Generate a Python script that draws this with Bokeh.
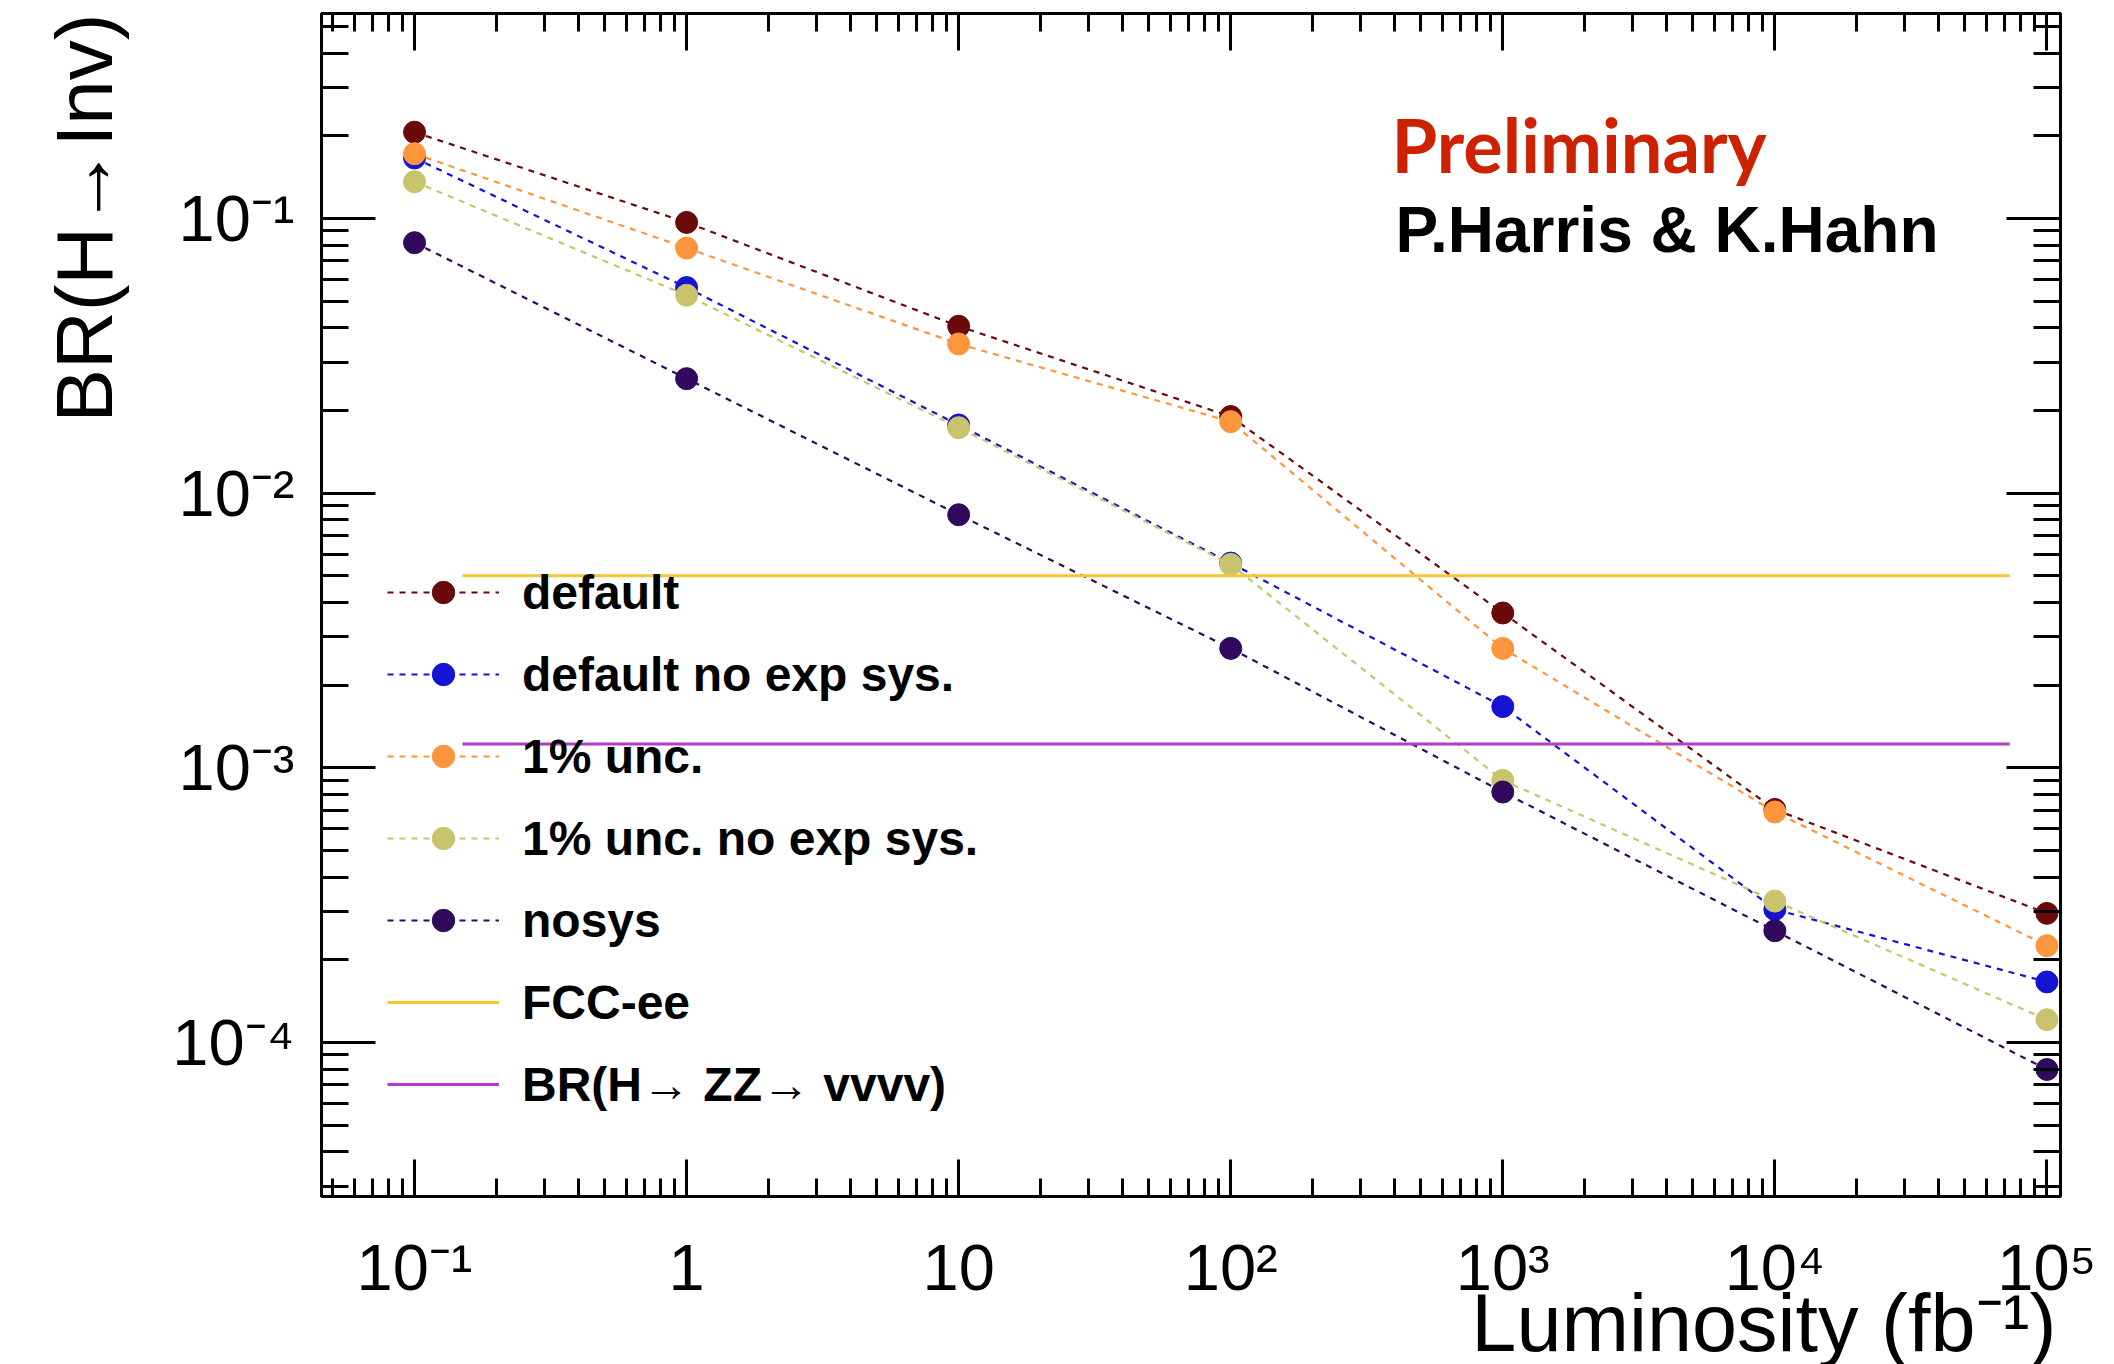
import math
from bokeh.plotting import figure
from bokeh.models import (LogAxis, LogTicker, CustomJSTickFormatter, Label,
                          Legend, LegendItem, Range1d, Title)
from bokeh.embed import file_html
from bokeh.resources import INLINE

# ---------------- data ----------------
lumi = [0.1, 1, 10, 100, 1000, 10000, 100000]
br_default = [0.206, 0.0967, 0.0405, 0.0190, 0.00366, 7.05e-4, 2.95e-4]
br_default_noexp = [0.166, 0.056, 0.0177, 0.00556, 0.00167, 3.05e-4, 1.66e-4]
br_1pct = [0.172, 0.078, 0.0349, 0.0182, 0.00272, 6.9e-4, 2.25e-4]
br_1pct_noexp = [0.136, 0.0525, 0.0173, 0.0055, 9.0e-4, 3.27e-4, 1.21e-4]
br_nosys = [0.0816, 0.0261, 0.00834, 0.00272, 8.16e-4, 2.55e-4, 7.97e-5]
fcc_lumi = [0.15, 7.3e4]
fcc_br = [5.0e-3, 5.0e-3]
zz_lumi = [0.15, 7.3e4]
zz_br = [1.22e-3, 1.22e-3]

series_labels = ["default", "default no exp sys.", "1% unc.",
                 "1% unc. no exp sys.", "nosys"]
series_values = [br_default, br_default_noexp, br_1pct, br_1pct_noexp, br_nosys]
series_colors = ["#6a0a0a", "#1414d2", "#fb963c", "#c8c46c", "#300a5c"]
line_labels = ["FCC-ee", "BR(H\u2192 ZZ\u2192 vvvv)"]
line_colors = ["#f6c534", "#b03cc8"]
x_title = "Luminosity (fb\u207b\u00b9)"
y_title = "BR(H\u2192Inv)"

W, H = 2114, 1364
ML, MR, MT, MB = 321, 54, 13, 168

p = figure(width=W, height=H, x_axis_type="log", y_axis_type="log",
           x_range=Range1d(10 ** -1.342, 10 ** 5.05),
           y_range=Range1d(10 ** -4.561, 10 ** -0.254),
           output_backend="svg", toolbar_location=None,
           min_border_left=ML, min_border_right=MR,
           min_border_top=MT, min_border_bottom=MB)
p.background_fill_color = "white"
p.border_fill_color = "white"
p.grid.visible = False
p.outline_line_color = "black"
p.outline_line_width = 3

fmt_code = """
const e = Math.round(Math.log10(tick));
if (e == 0) return "1";
if (e == 1) return "10";
const sup = {"-":"\u207b","0":"\u2070","1":"\u00b9","2":"\u00b2","3":"\u00b3",
             "4":"\u2074","5":"\u2075","6":"\u2076","7":"\u2077","8":"\u2078","9":"\u2079"};
return "10" + String(e).split("").map(c => sup[c]).join("");
"""

def style_axis(ax, tick_len, show_labels):
    ax.ticker = LogTicker(desired_num_ticks=10, num_minor_ticks=10)
    ax.axis_line_color = "black"
    ax.axis_line_width = 3
    ax.major_tick_in = tick_len
    ax.major_tick_out = 0
    ax.minor_tick_in = tick_len // 2
    ax.minor_tick_out = 0
    ax.major_tick_line_width = 3
    ax.minor_tick_line_width = 3
    ax.major_tick_line_color = "black"
    ax.minor_tick_line_color = "black"
    ax.axis_label = None
    if show_labels:
        ax.formatter = CustomJSTickFormatter(code=fmt_code)
        ax.major_label_text_font = "Liberation Sans"
        ax.major_label_text_font_size = "65px"
        ax.major_label_text_color = "black"
    else:
        ax.major_label_text_font_size = "1px"
        ax.major_label_text_alpha = 0
        ax.major_label_standoff = 0

xa = p.xaxis[0]
style_axis(xa, 37, True)
xa.major_label_standoff = 34

ya = p.yaxis[0]
style_axis(ya, 54, True)
ya.major_label_standoff = 27

top_ax = LogAxis()
style_axis(top_ax, 37, False)
p.add_layout(top_ax, "above")
right_ax = LogAxis()
style_axis(right_ax, 54, False)
p.add_layout(right_ax, "right")

# axis titles (ROOT style: right-aligned / top-aligned)
p.add_layout(Title(text=x_title, align="right", vertical_align="bottom",
                   offset=4, standoff=-62, text_font="Liberation Sans",
                   text_font_style="normal", text_font_size="81px",
                   text_color="black"), "below")
p.add_layout(Title(text=y_title, align="right", vertical_align="top",
                   offset=0, standoff=77, text_font="Liberation Sans",
                   text_font_style="normal", text_font_size="80px",
                   text_color="black"), "left")

items = []
for lab, vals, col in zip(series_labels, series_values, series_colors):
    lr = p.line(lumi, vals, line_color=col, line_width=2.2, line_dash="6 6")
    sr = p.scatter(lumi, vals, marker="circle", size=22, fill_color=col,
                   line_color=col)
    items.append(LegendItem(label=lab, renderers=[lr, sr]))

for lab, xs, ys, col in zip(line_labels, [fcc_lumi, zz_lumi], [fcc_br, zz_br], line_colors):
    r = p.line(xs, ys, line_color=col, line_width=3)
    items.append(LegendItem(label=lab, renderers=[r]))

legend = Legend(items=items, location=(66, 84))
legend.border_line_alpha = 0
legend.background_fill_alpha = 0
legend.padding = 0
legend.margin = 0
legend.spacing = 26
legend.glyph_width = 112
legend.glyph_height = 56
legend.label_height = 56
legend.label_standoff = 23
legend.label_text_font = "Liberation Sans"
legend.label_text_font_size = "48px"
legend.label_text_font_style = "bold"
legend.label_text_color = "black"
p.add_layout(legend)

# texts (screen units relative to frame bottom-left)
p.add_layout(Label(x=1070, y=1052, x_units="screen", y_units="screen",
                   text="Preliminary", text_font="Lato", text_font_style="bold",
                   text_font_size="74px", text_color="#cc2200",
                   text_baseline="alphabetic", text_align="left"))
p.add_layout(Label(x=1074, y=967, x_units="screen", y_units="screen",
                   text="P.Harris & K.Hahn", text_font="Liberation Sans",
                   text_font_style="bold", text_font_size="64px",
                   text_color="black", text_baseline="alphabetic",
                   text_align="left"))

open("out.html", "w").write(file_html(p, INLINE))
